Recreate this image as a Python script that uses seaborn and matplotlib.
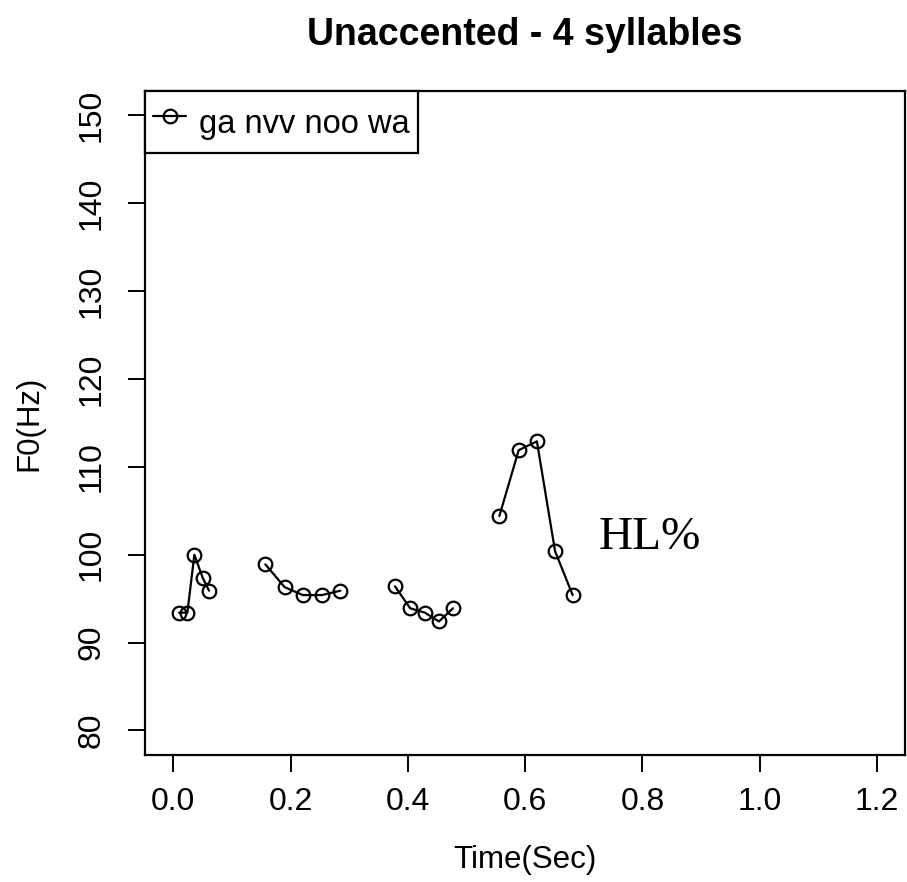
#!/usr/bin/env python3
"""F0 contour of an unaccented 4-syllable word (ga nvv noo wa)."""

import pandas as pd
import matplotlib

matplotlib.use("Agg")
import matplotlib.pyplot as plt
from matplotlib.lines import Line2D
import seaborn as sns

# Data, one list per syllable
syllables = ["ga", "nvv", "noo", "wa"]
time_ga = [0.010, 0.024, 0.036, 0.050, 0.061]
f0_ga = [93.4, 93.4, 100.0, 97.4, 95.9]
time_nvv = [0.157, 0.190, 0.221, 0.253, 0.285]
f0_nvv = [98.9, 96.3, 95.4, 95.4, 95.9]
time_noo = [0.378, 0.404, 0.429, 0.453, 0.477]
f0_noo = [96.4, 93.9, 93.4, 92.4, 93.9]
time_wa = [0.556, 0.589, 0.620, 0.651, 0.681]
f0_wa = [104.4, 111.9, 112.9, 100.4, 95.4]

word_label = "ga nvv noo wa"
boundary_tone = "HL%"
x_ticks = [0.0, 0.2, 0.4, 0.6, 0.8, 1.0, 1.2]
y_ticks = [80, 90, 100, 110, 120, 130, 140, 150]


def build_frame():
    """Stack the syllables into one long table."""
    parts = []
    for name, t, f in zip(
        syllables,
        [time_ga, time_nvv, time_noo, time_wa],
        [f0_ga, f0_nvv, f0_noo, f0_wa],
    ):
        parts.append(pd.DataFrame({"time": t, "f0": f, "syllable": name}))
    return pd.concat(parts, ignore_index=True)


def main():
    df = build_frame()

    sns.set_style("white")
    plt.rcParams["font.family"] = ["Liberation Sans", "DejaVu Sans"]
    plt.rcParams["text.color"] = "black"
    plt.rcParams["axes.labelcolor"] = "black"
    plt.rcParams["xtick.color"] = "black"
    plt.rcParams["ytick.color"] = "black"

    fig = plt.figure(figsize=(9.07, 8.82), dpi=100)
    ax = fig.add_axes([0.160, 0.144, 0.838, 0.753])

    line_style = dict(
        color="black",
        linewidth=1.6,
        marker="o",
        markersize=9.8,
        markerfacecolor="none",
        markeredgecolor="black",
        markeredgewidth=1.6,
    )

    sns.lineplot(
        data=df,
        x="time",
        y="f0",
        units="syllable",
        estimator=None,
        sort=False,
        ax=ax,
        **line_style,
    )

    # R style axis limits (4% padding around the tick range)
    xpad = 0.04 * (x_ticks[-1] - x_ticks[0])
    ypad = 0.04 * (y_ticks[-1] - y_ticks[0])
    ax.set_xlim(x_ticks[0] - xpad, x_ticks[-1] + xpad)
    ax.set_ylim(y_ticks[0] - ypad, y_ticks[-1] + ypad)
    ax.set_xticks(x_ticks)
    ax.set_xticklabels([f"{v:.1f}" for v in x_ticks])
    ax.set_yticks(y_ticks)
    ax.set_yticklabels([str(v) for v in y_ticks], rotation=90, va="center")

    for side in ["left", "right", "top", "bottom"]:
        ax.spines[side].set_visible(True)
        ax.spines[side].set_color("black")
        ax.spines[side].set_linewidth(1.6)

    ax.tick_params(axis="both", direction="out", length=12, width=1.4,
                   colors="black", labelsize=23, bottom=True, left=True)
    ax.tick_params(axis="x", pad=11)
    ax.tick_params(axis="y", pad=16)

    ax.set_title("Unaccented - 4 syllables", fontsize=27, fontweight="bold",
                 pad=33, color="black")
    ax.set_xlabel("Time(Sec)", fontsize=22.5)
    ax.set_ylabel("F0(Hz)", fontsize=22.5)
    ax.xaxis.set_label_coords(0.5, -0.136)
    ax.yaxis.set_label_coords(-0.132, 0.5)

    ax.text(0.726, 100.7, boundary_tone, fontsize=34, ha="left", va="baseline",
            family=["Liberation Serif", "DejaVu Serif"])

    handle = Line2D([], [], **line_style)
    leg = ax.legend(
        handles=[handle],
        labels=[word_label],
        loc="upper left",
        borderaxespad=0,
        fontsize=23.5,
        handlelength=1.0,
        handletextpad=0.4,
        handleheight=1.8,
        borderpad=0.25,
        fancybox=False,
        framealpha=1,
    )
    leg.get_frame().set_edgecolor("black")
    leg.get_frame().set_linewidth(1.6)

    fig.savefig("out.png", dpi=100)
    plt.close(fig)


if __name__ == "__main__":
    main()
